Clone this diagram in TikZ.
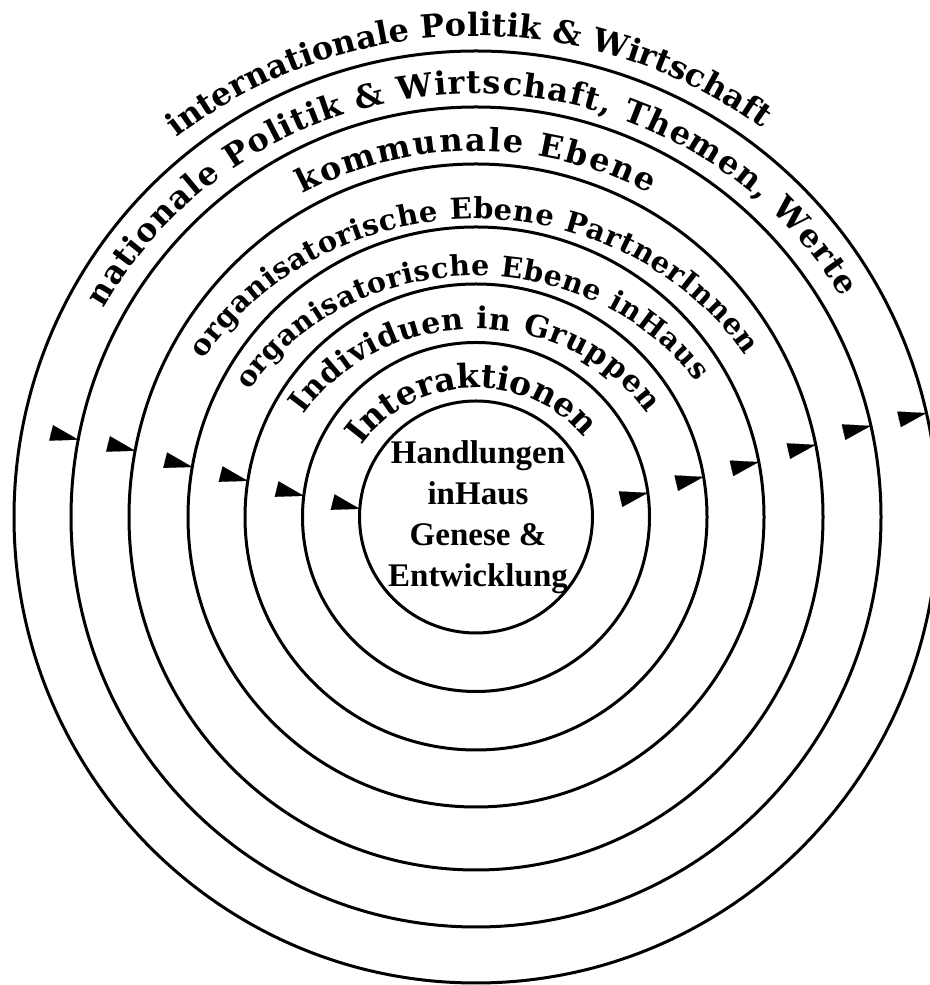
\documentclass[tikz,border=0pt]{standalone}
\usepackage{fontspec}
\setmainfont{Liberation Serif}
\newfontfamily\ringfont{DejaVu Serif}
\usetikzlibrary{arrows.meta,calc,shapes.geometric,decorations.text}
\tikzset{
  ring/.style   ={ellipse,draw=black,line width=3pt,inner sep=0pt,outer sep=0pt},
  head/.style   ={-{Triangle[length=28pt,width=16pt]},line width=0.1pt},
  ringlbl/.style 2 args={decorate,decoration={text along path,text align={fit to path},
                 text={|\ringfont\bfseries\fontsize{#1}{#1}\selectfont|#2}}},
  core/.style   ={align=center,font=\bfseries\fontsize{33}{41}\selectfont,inner sep=0pt},
}
\begin{document}
\begin{tikzpicture}[x=1pt,y=1pt]
\useasboundingbox (0,0) rectangle (929,985);
\coordinate (ctr) at (476,468);
% rings, outermost first
\foreach \n/\w/\h in {c1/924/932,c2/810/820,c3/694/706,c4/576/580,
                      c5/462/466,c6/347/349,c7/233/232}
  \node[ring,minimum width=\w pt,minimum height=\h pt] (\n) at (ctr) {};

\node[core] (hub) at (478,468) {Handlungen\\inHaus\\Genese \&\\Entwicklung};

% ring labels, baseline on a flat arc in each band
\path[ringlbl={32}{internationale Politik {\&} Wirtschaft}]
  (ctr) ++(128:486 and 481) arc[start angle=128,end angle=54,x radius=486,y radius=481];
\path[ringlbl={32}{nationale Politik {\&} Wirtschaft, Themen, Werte}]
  (ctr) ++(150.5:428 and 423) arc[start angle=150.5,end angle=31.3,x radius=428,y radius=423];
\path[ringlbl={32}{kommunale Ebene}]
  (ctr) ++(118:370 and 366) arc[start angle=118,end angle=62,x radius=370,y radius=366];
\path[ringlbl={29}{organisatorische Ebene PartnerInnen}]
  (ctr) ++(148.2:320 and 298) arc[start angle=148.2,end angle=32.8,x radius=320,y radius=298];
\path[ringlbl={28.5}{organisatorische Ebene inHaus}]
  (ctr) ++(148.5:266 and 241) arc[start angle=148.5,end angle=34.1,x radius=266,y radius=241];
\path[ringlbl={30}{Individuen in Gruppen}]
  (ctr) ++(147:205 and 188) arc[start angle=147,end angle=33.5,x radius=205,y radius=188];
\path[ringlbl={33}{Interaktionen}]
  (ctr) ++(146.5:137 and 129) arc[start angle=146.5,end angle=41.8,x radius=137,y radius=129];

% arrowheads: inward on the left, outward on the right
\foreach \n/\a in {c2/169,c3/169,c4/170,c5/171,c6/173,c7/176}
  \draw[head] ($(\n.\a)+(166:29)$) -- (\n.\a);
\foreach \n/\a in {c6/8,c5/10,c4/11,c3/12,c2/13,c1/13}
  \draw[head] ($(\n.\a)+(193:29)$) -- (\n.\a);
\end{tikzpicture}
\end{document}
